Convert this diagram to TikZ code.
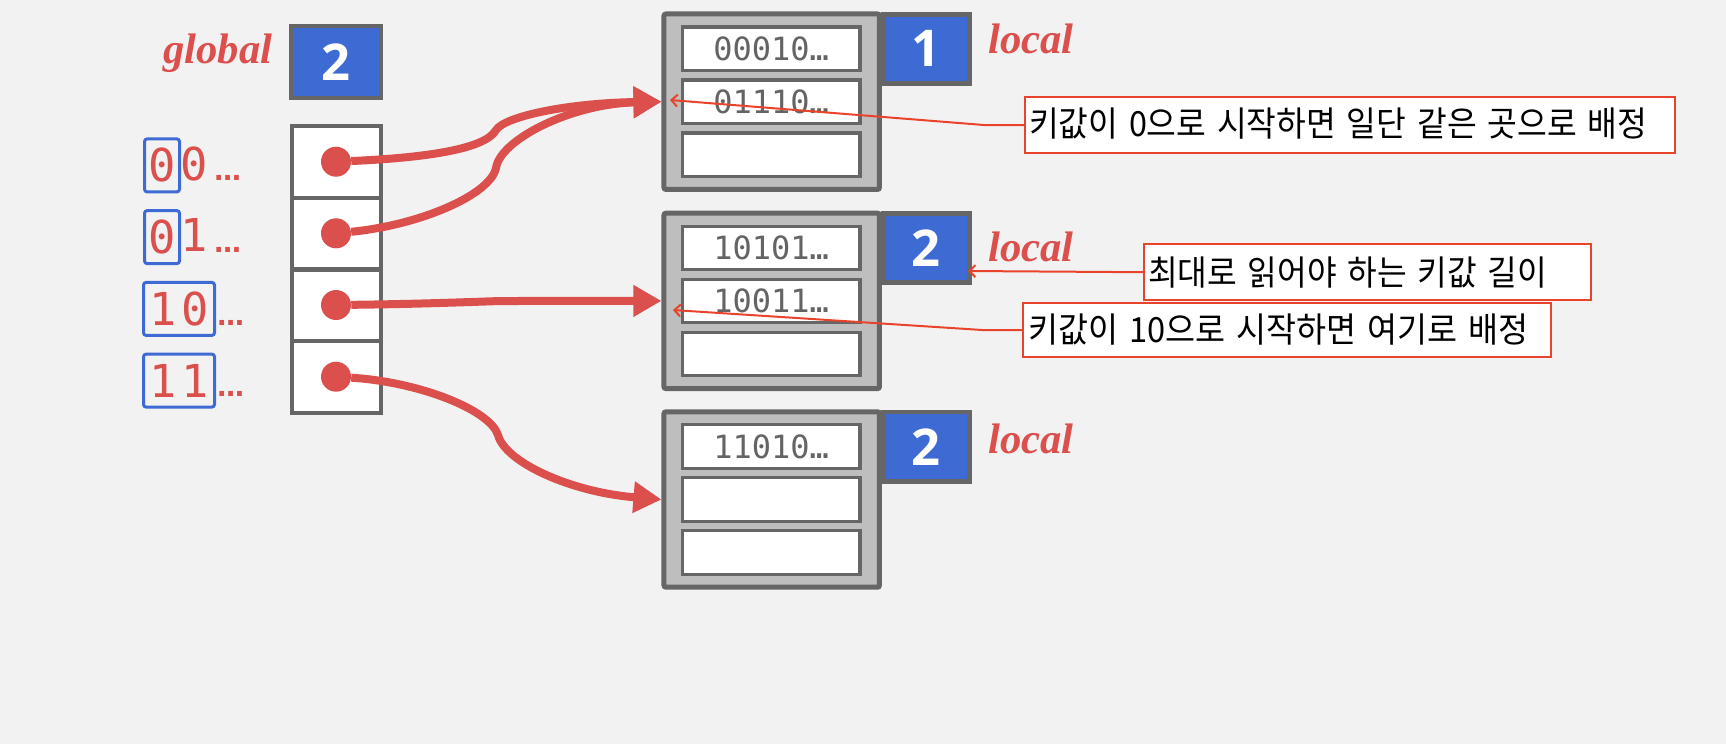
\documentclass[tikz,border=0pt]{standalone}
\usepackage{fontspec}
\usepackage{graphicx}
\usetikzlibrary{arrows.meta}
\setmainfont{Liberation Serif}
\newfontfamily\kr{Noto Sans CJK KR}
\newfontfamily\mono{DejaVu Sans Mono}
\newfontfamily\numfont{Open Sans}
\newfontfamily\dejab{DejaVu Sans}
\definecolor{bgcol}{RGB}{242,242,242}
\definecolor{redA}{RGB}{219,80,76}
\definecolor{bluecol}{RGB}{61,107,211}
\definecolor{edgegray}{RGB}{102,102,102}
\definecolor{bucketgray}{RGB}{190,190,190}
\definecolor{slotgray}{RGB}{100,100,100}
\definecolor{calred}{RGB}{234,67,44}
\tikzset{
  cell/.style={draw=edgegray, line width=3pt, fill=white, minimum width=67pt, minimum height=53.8pt, inner sep=0pt},
  bluebox/.style={draw=edgegray, line width=3.5pt, fill=bluecol, inner sep=0pt, text=white, font=\numfont\bfseries\fontsize{38}{38}\selectfont},
  bucket/.style={draw=edgegray, line width=3.75pt, fill=bucketgray, minimum width=161.6pt, minimum height=131.6pt, rounded corners=1.5pt, inner sep=0pt},
  slot/.style={draw=edgegray, line width=2.5pt, fill=white, minimum width=133.3pt, minimum height=32.6pt, inner sep=0pt, font=\mono\fontsize{24}{24}\selectfont, text=slotgray},
  dot/.style={circle, fill=redA, minimum size=22.5pt, inner sep=0pt},
  keybox/.style={draw=bluecol, line width=2.25pt, rounded corners=2pt, inner sep=0pt, minimum height=39.75pt},
  keydigit/.style={font=\mono\fontsize{34}{34}\selectfont, text=redA, inner sep=0pt},
  dotsl/.style={font=\dejab\bfseries\fontsize{20}{20}\selectfont, text=redA, inner sep=0pt, anchor=base west},
  lvl/.style={font=\bfseries\itshape\fontsize{32}{32}\selectfont, text=redA, inner sep=0pt, anchor=base west},
  ptr/.style={draw=redA, line width=6pt, -{Triangle[length=21pt,width=22.5pt]}},
  callout/.style={draw=calred, line width=1.5pt, fill=white, inner ysep=0pt, align=left, font=\kr\fontsize{26}{26}\selectfont, text=black},
  note/.style={draw=calred, line width=1.5pt, -{Straight Barb[length=4.5pt,width=9pt]}}
}
\begin{document}
\begin{tikzpicture}[x=0.75pt,y=-0.75pt]
\fill[bgcol] (0,0) rectangle (1726,744);
\useasboundingbox (0,0) rectangle (1726,744);

% global depth
\node[lvl] (gl) at (163,63) {global};
\node[bluebox, minimum width=67.5pt, minimum height=54pt] (G) at (336,62) {2};

% directory
\node[cell] (r1) at (336.6,161.9) {};
\node[cell] (r2) at (336.6,233.6) {};
\node[cell] (r3) at (336.6,305.4) {};
\node[cell] (r4) at (336.6,377.1) {};
\node[dot] (d1) at (336,161.7) {};
\node[dot] (d2) at (336,233.3) {};
\node[dot] (d3) at (336,305) {};
\node[dot] (d4) at (336,376.7) {};

% key labels
\node[keybox, keydigit, minimum width=26.25pt] (k1) at (162,165.4) {0};
\node[keydigit] (k1b) at (194,163.5) {0};
\node[dotsl] (e1) at (214,180) {…};
\node[keybox, keydigit, minimum width=26.25pt] (k2) at (162,237.1) {0};
\node[keydigit] (k2b) at (194,235.2) {1};
\node[dotsl] (e2) at (214,252) {…};
\node[keybox, keydigit, minimum width=53.25pt] (k3) at (179,308.9) {1\kern3.5pt0};
\node[dotsl] (e3) at (217,325) {…};
\node[keybox, keydigit, minimum width=53.25pt] (k4) at (179,380.6) {1\kern3.5pt1};
\node[dotsl] (e4) at (217,396.7) {…};

% bucket 1
\node[bucket] (b1) at (771.7,101.7) {};
\node[slot] (s1a) at (771.2,48.7) {\raisebox{-2.5pt}{00010…}};
\node[slot] (s1b) at (771.2,101.7) {\raisebox{-2.5pt}{01110…}};
\node[slot] (s1c) at (771.2,154.7) {};
\node[bluebox, minimum width=64.5pt, minimum height=52pt] (g1) at (926.2,48.9) {\raisebox{-2.5pt}{1}};
\node[lvl] (l1) at (988,53) {local};

% bucket 2
\node[bucket] (b2) at (771.7,300.9) {};
\node[slot] (s2a) at (771.2,247.9) {\raisebox{-2.5pt}{10101…}};
\node[slot] (s2b) at (771.2,300.9) {\raisebox{-2.5pt}{10011…}};
\node[slot] (s2c) at (771.2,353.9) {};
\node[bluebox, minimum width=64.5pt, minimum height=52pt] (g2) at (926.2,248.1) {\raisebox{-2.5pt}{2}};
\node[lvl] (l2) at (988,261.7) {local};

% bucket 3
\node[bucket] (b3) at (771.7,499.5) {};
\node[slot] (s3a) at (771.2,446.5) {\raisebox{-2.5pt}{11010…}};
\node[slot] (s3b) at (771.2,499.5) {};
\node[slot] (s3c) at (771.2,552.5) {};
\node[bluebox, minimum width=64.5pt, minimum height=52pt] (g3) at (926.2,446.7) {\raisebox{-2.5pt}{2}};
\node[lvl] (l3) at (988,453.3) {local};

% pointers
\draw[ptr] (d1) .. controls (420,158) and (485,150) .. (496,130) .. controls (505,116) and (570,103) .. (b1.west);
\draw[ptr] (d2) .. controls (420,225) and (490,195) .. (496,168) .. controls (500,140) and (570,104) .. (b1.west);
\draw[ptr, line join=round] (d3) .. controls (420,304) and (470,302) .. (500,301) -- (b2.west);
\draw[ptr] (d4) .. controls (420,382) and (490,410) .. (498,435) .. controls (505,462) and (570,492) .. (b3.west);

% callouts
\node[callout, minimum width=487.5pt, minimum height=42.5pt, inner xsep=3pt, text width=481.5pt] (c1) at (1350,125)
  {\raisebox{4.5pt}{\resizebox{463.5pt}{\height}{키값이 0으로 시작하면 일단 같은 곳으로 배정}}};
\node[callout, minimum width=335.5pt, minimum height=41.8pt, inner xsep=3pt, text width=329.5pt] (c2) at (1367.7,272.2)
  {\raisebox{1.5pt}{\resizebox{299.25pt}{\height}{최대로 읽어야 하는 키값 길이}}};
\node[callout, minimum width=395.8pt, minimum height=40pt, inner xsep=3.75pt, text width=388.3pt] (c3) at (1287.2,330)
  {\raisebox{3pt}{\resizebox{374.8pt}{\height}{키값이 10으로 시작하면 여기로 배정}}};

\coordinate (t1) at (670,100);
\coordinate (t2) at (968,271);
\coordinate (t3) at (673,310);
\draw[note] (c1.west) -- ++(-40,0) -- (t1);
\draw[note] (c2.west) -- (t2);
\draw[note] (c3.west) -- ++(-40,0) -- (t3);
\end{tikzpicture}
\end{document}
